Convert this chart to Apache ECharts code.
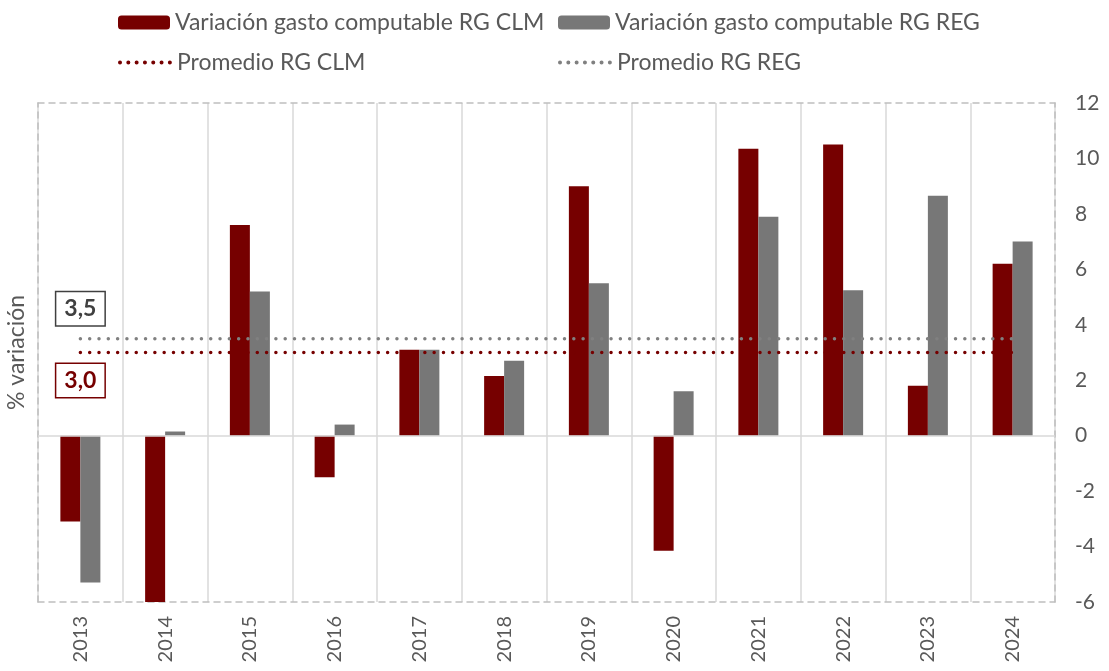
<!DOCTYPE html>
<html>
<head>
<meta charset="utf-8">
<script src="https://cdn.jsdelivr.net/npm/echarts@6/dist/echarts.min.js"></script>
<style>
  html, body { margin: 0; padding: 0; background: #fff; }
  #chart { width: 1109px; height: 671px; }
</style>
</head>
<body>
<div id="chart"></div>
<script>
const years = ['2013', '2014', '2015', '2016', '2017', '2018', '2019', '2020', '2021', '2022', '2023', '2024'];
const gastoCLM = [-3.1, -6.0, 7.6, -1.5, 3.1, 2.15, 9.0, -4.15, 10.35, 10.5, 1.8, 6.2];
const gastoREG = [-5.3, 0.15, 5.2, 0.4, 3.1, 2.7, 5.5, 1.6, 7.9, 5.25, 8.65, 7.0];
const promedioCLM = [3.0, 3.0, 3.0, 3.0, 3.0, 3.0, 3.0, 3.0, 3.0, 3.0, 3.0, 3.0];
const promedioREG = [3.5, 3.5, 3.5, 3.5, 3.5, 3.5, 3.5, 3.5, 3.5, 3.5, 3.5, 3.5];
const yTicks = { min: -6, max: 12, interval: 2 };

const RED = '#760000';
const GRAY = '#777777';
const TXT = '#595959';
const FONT = 'Lato';

var myChart = echarts.init(document.getElementById('chart'));

// etiqueta con recuadro en el primer punto de cada promedio
const boxLabel = (v, color, dy) => ({
  show: true,
  position: 'inside',
  offset: [0, dy],
  formatter: v.toFixed(1).replace('.', ','),
  fontFamily: FONT,
  fontSize: 23,
  fontWeight: 'bold',
  color: color,
  borderColor: color,
  borderWidth: 1.5,
  backgroundColor: '#fff',
  padding: [6, 8, 4, 8],
});

const legendBase = {
  itemWidth: 52,
  itemHeight: 14,
  textStyle: { fontFamily: FONT, fontSize: 23, color: TXT },
  selectedMode: false,
};
const legendLine = (color) => ({
  itemStyle: { opacity: 0 },
  lineStyle: { color: color, width: 4, type: [0.01, 8.3], cap: 'round' },
});

var option = {
  textStyle: { fontFamily: FONT },
  legend: [
    Object.assign({ left: 113, top: 6, data: ['Variación gasto computable RG CLM'] }, legendBase),
    Object.assign({ left: 553, top: 6, data: ['Variación gasto computable RG REG'] }, legendBase),
    Object.assign({ left: 113, top: 46, data: ['Promedio RG CLM'] }, legendBase, legendLine(RED)),
    Object.assign({ left: 553, top: 46, data: ['Promedio RG REG'] }, legendBase, legendLine('#808080')),
  ],
  grid: { left: 38, right: 54, top: 103, bottom: 69, outerBoundsMode: 'none', containLabel: false },
  xAxis: [
    {
      type: 'category',
      data: years,
      position: 'bottom',
      axisLine: { show: true, onZero: false, lineStyle: { color: '#bfbfbf', type: [6, 5], width: 1.5 } },
      axisTick: { show: false },
      axisLabel: { rotate: 90, margin: 14, fontSize: 20, color: TXT, fontFamily: FONT },
      splitLine: { show: true, lineStyle: { color: '#d9d9d9', width: 1.5 } },
    },
    {
      type: 'category',
      data: years,
      position: 'top',
      axisLine: { show: true, onZero: false, lineStyle: { color: '#bfbfbf', type: [6, 5], width: 1.5 } },
      axisTick: { show: false },
      axisLabel: { show: false },
    },
  ],
  yAxis: [
    {
      type: 'value',
      position: 'right',
      min: yTicks.min,
      max: yTicks.max,
      interval: yTicks.interval,
      axisLine: { show: true, lineStyle: { color: '#bfbfbf', type: [6, 5], width: 1.5 } },
      axisTick: { show: false },
      axisLabel: { margin: 20, fontSize: 21, color: TXT, fontFamily: FONT, align: 'left' },
      splitLine: { show: false },
    },
    {
      type: 'value',
      position: 'left',
      min: yTicks.min,
      max: yTicks.max,
      interval: yTicks.interval,
      name: '% variación',
      nameLocation: 'middle',
      nameGap: 10,
      nameTextStyle: { fontSize: 23, color: TXT, fontFamily: FONT },
      axisLine: { show: true, lineStyle: { color: '#bfbfbf', type: [6, 5], width: 1.5 } },
      axisTick: { show: false },
      axisLabel: { show: false },
      splitLine: { show: false },
    },
  ],
  series: [
    {
      name: 'Variación gasto computable RG CLM',
      type: 'bar',
      barWidth: 20,
      barGap: '0%',
      itemStyle: { color: RED },
      data: gastoCLM,
      markLine: {
        silent: true,
        symbol: 'none',
        label: { show: false },
        lineStyle: { color: '#d9d9d9', type: 'solid', width: 1.5 },
        data: [{ yAxis: 0 }],
      },
      z: 3,
    },
    {
      name: 'Variación gasto computable RG REG',
      type: 'bar',
      barWidth: 20,
      itemStyle: { color: GRAY },
      data: gastoREG,
      z: 3,
    },
    {
      name: 'Promedio RG CLM',
      type: 'line',
      symbol: 'none',
      lineStyle: { color: RED, width: 3.5, type: [0.01, 9.3], cap: 'round' },
      itemStyle: { color: RED },
      data: promedioCLM.map((v, i) => i === 0
        ? { value: v, symbol: 'circle', symbolSize: 1, label: boxLabel(v, RED, 28) }
        : v),
      z: 4,
    },
    {
      name: 'Promedio RG REG',
      type: 'line',
      symbol: 'none',
      lineStyle: { color: '#808080', width: 3.5, type: [0.01, 9.3], cap: 'round' },
      itemStyle: { color: '#808080' },
      data: promedioREG.map((v, i) => i === 0
        ? { value: v, symbol: 'circle', symbolSize: 1, label: boxLabel(v, '#404040', -30) }
        : v),
      z: 4,
    },
  ],
};

option && myChart.setOption(option);
</script>
</body>
</html>
